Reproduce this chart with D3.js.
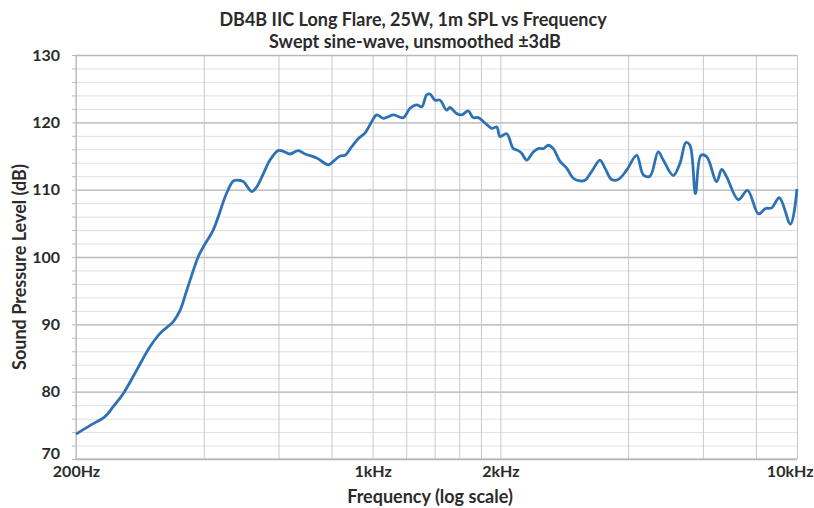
<!DOCTYPE html>
<html>
<head>
<meta charset="utf-8">
<script src="https://cdn.jsdelivr.net/npm/d3@7"></script>
<style>
  body { margin: 0; background: #fff; }
  text { font-family: Lato, "Open Sans", sans-serif; font-weight: bold; fill: #2b2b2b; }
</style>
</head>
<body>
<div id="chart"></div>
<script>
const freqHz = [200, 216, 234, 245, 259, 278, 299, 316, 339, 352, 365, 388, 399, 421, 453, 470, 482, 496, 519, 533,
  553, 573, 599, 616, 639, 668, 693, 738, 787, 808, 838, 861, 893, 926, 959, 995, 1022, 1060, 1119, 1181,
  1225, 1270, 1305, 1341, 1365, 1403, 1441, 1494, 1521, 1578, 1621, 1680, 1726, 1774, 1840, 1908, 1961, 1996, 2070, 2145,
  2204, 2245, 2307, 2391, 2457, 2524, 2594, 2665, 2764, 2866, 2970, 3080, 3165, 3282, 3433, 3528, 3658, 3791, 3968, 4190,
  4343, 4503, 4710, 4840, 5110, 5299, 5474, 5594, 5764, 5938, 6125, 6467, 6645, 6827, 7274, 7646, 8116, 8430, 8718, 9086,
  9653, 10000];
const splDb = [73.7, 75.0, 76.3, 77.8, 79.8, 83.2, 86.7, 88.7, 90.4, 92.1, 95.1, 100.0, 101.5, 104.0, 109.5, 111.3, 111.4, 111.2, 109.7, 110.4,
  112.4, 114.4, 115.8, 115.7, 115.3, 115.8, 115.3, 114.7, 113.7, 114.2, 115.0, 115.1, 116.4, 117.6, 118.4, 120.1, 121.1, 120.6, 121.1, 120.7,
  122.1, 122.6, 122.3, 124.1, 124.2, 123.3, 123.3, 121.8, 122.2, 121.3, 121.1, 121.7, 120.7, 120.7, 119.9, 119.1, 119.3, 117.9, 118.3, 116.1,
  115.8, 115.4, 114.4, 115.6, 116.1, 116.1, 116.6, 116.1, 114.2, 113.2, 111.7, 111.3, 111.4, 112.7, 114.4, 113.2, 111.5, 111.5, 112.9, 115.1,
  112.2, 112.0, 115.6, 114.4, 112.1, 113.9, 117.0, 116.6, 109.4, 115.1, 114.9, 111.2, 113.0, 111.9, 108.5, 109.9, 106.4, 107.2, 107.3, 108.8,
  104.9, 110.1];

const yTicks = [70, 80, 90, 100, 110, 120, 130];
const xGridFreqs = [200, 400, 600, 800, 1000, 1200, 1400, 1600, 1800, 2000, 4000, 6000, 8000, 10000];
const xTickFreqs = [200, 1000, 2000, 10000];
const xTickLabels = ["200Hz", "1kHz", "2kHz", "10kHz"];

const width = 814;
const height = 508;
const margin = { top: 55, right: 17, bottom: 49, left: 76 };
const innerW = width - margin.left - margin.right;
const innerH = height - margin.top - margin.bottom;

const svg = d3.select("#chart").append("svg")
  .attr("width", width)
  .attr("height", height);

const g = svg.append("g")
  .attr("transform", `translate(${margin.left}, ${margin.top})`);

const xScale = d3.scaleLog().domain([200, 10000]).range([0, innerW]);
const yScale = d3.scaleLinear().domain([70, 130]).range([innerH, 0]);

// minor horizontal grid every 2 dB
const minorY = d3.range(70, 131, 2);
g.append("g")
  .call(d3.axisLeft(yScale).tickValues(minorY).tickSize(-innerW).tickFormat(""))
  .call((a) => a.select(".domain").remove())
  .call((a) => a.selectAll("line").attr("stroke", "#e0e0e0"));

// small tick marks on the y axis
g.append("g")
  .call(d3.axisLeft(yScale).tickValues(minorY).tickSize(4).tickFormat(""))
  .call((a) => a.select(".domain").remove())
  .call((a) => a.selectAll("line").attr("stroke", "#bbb"));

// major horizontal grid
g.append("g")
  .call(d3.axisLeft(yScale).tickValues(yTicks).tickSize(-innerW).tickFormat(""))
  .call((a) => a.select(".domain").remove())
  .call((a) => a.selectAll("line").attr("stroke", "#b8b8b8").attr("stroke-width", 1.4));

// vertical grid
g.append("g")
  .attr("transform", `translate(0, ${innerH})`)
  .call(d3.axisBottom(xScale).tickValues(xGridFreqs).tickSize(-innerH).tickFormat(""))
  .call((a) => a.select(".domain").remove())
  .call((a) => a.selectAll("line").attr("stroke", "#c8c8c8"));

// axis lines
g.append("line").attr("x1", 0).attr("x2", 0).attr("y1", 0).attr("y2", innerH)
  .attr("stroke", "#b5b5b5");
g.append("line").attr("x1", 0).attr("x2", innerW).attr("y1", innerH).attr("y2", innerH)
  .attr("stroke", "#b5b5b5");

// y tick labels (lowest one nudged up, as in the original, to clear the x labels)
g.append("g")
  .call(d3.axisLeft(yScale).tickValues(yTicks).tickSize(0).tickPadding(16))
  .call((a) => a.select(".domain").remove())
  .call((a) => a.selectAll("text").style("font-size", "16px").style("font-family", "Lato, sans-serif"))
  .call((a) => a.selectAll("text").filter((d) => d === 70).attr("y", -6));

// x tick labels
g.append("g")
  .attr("transform", `translate(0, ${innerH})`)
  .call(d3.axisBottom(xScale).tickValues(xTickFreqs).tickSize(0).tickPadding(7)
    .tickFormat((d, i) => xTickLabels[i]))
  .call((a) => a.select(".domain").remove())
  .call((a) => a.selectAll("text").style("font-size", "16px").style("font-family", "Lato, sans-serif"))
  .call((a) => a.selectAll("text").filter((d) => d === 10000).attr("text-anchor", "end").attr("dx", 16));

// the response curve
const data = freqHz.map((f, i) => [f, splDb[i]]);
const line = d3.line()
  .x((d) => xScale(d[0]))
  .y((d) => yScale(d[1]))
  .curve(d3.curveCatmullRom.alpha(0.5));

g.append("path")
  .datum(data)
  .attr("fill", "none")
  .attr("stroke", "#2e72b4")
  .attr("stroke-width", 2.8)
  .attr("stroke-linejoin", "round")
  .attr("d", line);

// titles
svg.append("text")
  .attr("x", 413).attr("y", 26)
  .attr("text-anchor", "middle")
  .style("font-size", "18px")
  .text("DB4B IIC Long Flare, 25W, 1m SPL vs Frequency");

svg.append("text")
  .attr("x", 415).attr("y", 48)
  .attr("text-anchor", "middle")
  .style("font-size", "18px")
  .text("Swept sine-wave, unsmoothed ±3dB");

svg.append("text")
  .attr("x", 430).attr("y", 503)
  .attr("text-anchor", "middle")
  .style("font-size", "18px")
  .text("Frequency (log scale)");

svg.append("text")
  .attr("transform", `translate(26, ${margin.top + innerH / 2 + 10}) rotate(-90)`)
  .attr("text-anchor", "middle")
  .style("font-size", "18px")
  .text("Sound Pressure Level (dB)");
</script>
</body>
</html>
